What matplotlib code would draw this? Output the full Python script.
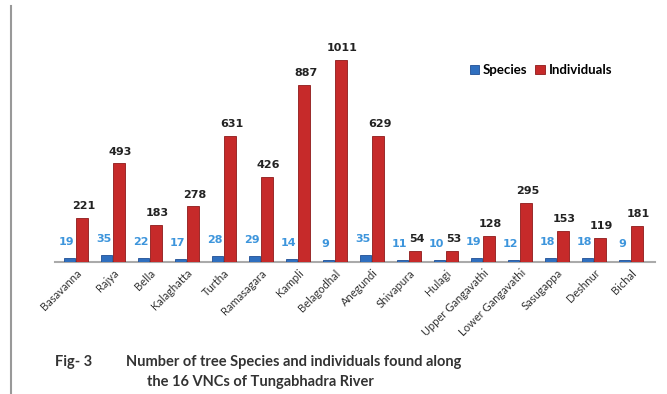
import numpy as np
import matplotlib.pyplot as plt
from matplotlib.lines import Line2D

# VNC sites along the river
sites = ['Basavanna', 'Rajya', 'Bella', 'Kalaghatta', 'Turtha', 'Ramasagara', 'Kampli',
         'Belagodhal', 'Anegundi', 'Shivapura', 'Hulagi', 'Upper Gangavathi',
         'Lower Gangavathi', 'Sasugappa', 'Deshnur', 'Bichal']
species = [19, 35, 22, 17, 28, 29, 14, 9, 35, 11, 10, 19, 12, 18, 18, 9]
individuals = [221, 493, 183, 278, 631, 426, 887, 1011, 629, 54, 53, 128, 295, 153, 119, 181]

blue = '#2f6fbf'
red = '#c62a2a'

plt.rcParams['font.family'] = ['Lato', 'DejaVu Sans']

fig = plt.figure(figsize=(6.67, 3.94), dpi=100)
ax = fig.add_axes([0.082, 0.335, 0.9, 0.563])

x = np.arange(len(sites))
ax.bar(x - 0.17, species, width=0.28, color=blue, edgecolor='#1f4f95', lw=0.6,
       label='Species', zorder=3)
ax.bar(x + 0.17, individuals, width=0.33, color=red, edgecolor='#8e1a1a', lw=0.6,
       label='Individuals', zorder=3)

# value labels
for xi, v in zip(x, species):
    ax.annotate(str(v), (xi - 0.17, v), xytext=(-2, 8), textcoords='offset points',
                ha='center', va='bottom', fontsize=8, fontweight='bold',
                color='#3d95dc', family='DejaVu Sans')
for xi, v in zip(x, individuals):
    ax.annotate(str(v), (xi + 0.17, v), xytext=(1, 5), textcoords='offset points',
                ha='center', va='bottom', fontsize=8, fontweight='bold',
                color='#222222', family='DejaVu Sans')

ax.set_xlim(-0.57, 15.65)
ax.set_ylim(0, 1110)
ax.set_xticks(x)
ax.set_xticklabels(sites, rotation=45, ha='right', rotation_mode='anchor',
                   fontsize=8, color='#333333')
ax.tick_params(axis='x', length=0, pad=4)
ax.set_yticks([])
for s in ['top', 'right', 'left']:
    ax.spines[s].set_visible(False)
ax.spines['bottom'].set_color('#aaaaaa')
ax.spines['bottom'].set_linewidth(1.5)

ax.legend(loc='center', bbox_to_anchor=(0.81, 0.865), ncol=2, frameon=False,
          handlelength=0.7, handleheight=0.7, handletextpad=0.3,
          columnspacing=0.6, prop={'weight': 'bold', 'size': 9.5})

# left border of the chart frame
fig.add_artist(Line2D([0.016, 0.016], [0.0, 0.985], color='#999999', lw=1.5))

fig.text(0.083, 0.081, 'Fig- 3', fontsize=10.5, fontweight='bold', color='#333333',
         ha='left', va='center')
fig.text(0.44, 0.081, 'Number of tree Species and individuals found along',
         fontsize=10.5, fontweight='bold', color='#333333', ha='center', va='center')
fig.text(0.39, 0.030, 'the 16 VNCs of Tungabhadra River',
         fontsize=10.5, fontweight='bold', color='#333333', ha='center', va='center')

fig.savefig('out.png', dpi=100)
